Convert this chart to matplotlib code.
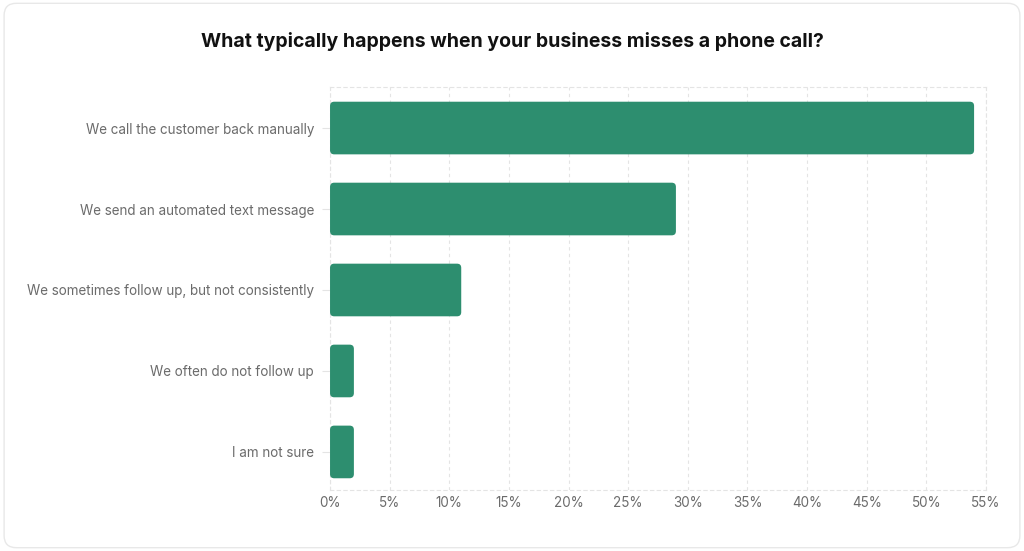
import matplotlib
matplotlib.use('Agg')
import matplotlib.pyplot as plt
from matplotlib.patches import FancyBboxPatch
from matplotlib.ticker import FuncFormatter

plt.rcParams['font.family'] = ['Inter', 'DejaVu Sans']

# dados da pesquisa
respostas = [
    'We call the customer back manually',
    'We send an automated text message',
    'We sometimes follow up, but not consistently',
    'We often do not follow up',
    'I am not sure',
]
percentuais = [54, 29, 11, 2, 2]
ticks_x = [0, 5, 10, 15, 20, 25, 30, 35, 40, 45, 50, 55]

cor_barra = '#2d8e6f'
cor_texto = '#6b6b6b'
cor_grade = '#e4e4e4'

fig = plt.figure(figsize=(10.24, 5.51), dpi=100)

# moldura externa arredondada (atras dos eixos)
moldura = FancyBboxPatch((0.004, 0.006), 0.992, 0.988, boxstyle='round,pad=0,rounding_size=0.012',
                         transform=fig.transFigure, facecolor='white', edgecolor='#e8e8e8',
                         linewidth=1.0, mutation_aspect=1024 / 551, zorder=-5)
fig.patches.append(moldura)

ax = fig.add_axes([0.3223, 0.1107, 0.6406, 0.7313])
ax.set_facecolor('none')

posicoes = list(range(len(respostas)))
barras = ax.barh(posicoes, percentuais, height=0.65, color=cor_barra)

# troca as barras por retangulos arredondados
for b in barras:
    x, y = b.get_x(), b.get_y()
    w, h = b.get_width(), b.get_height()
    b.set_visible(False)
    p = FancyBboxPatch((x, y), w, h, boxstyle='round,pad=0,rounding_size=0.35',
                       mutation_aspect=0.147, facecolor=cor_barra, edgecolor='none', zorder=3)
    ax.add_patch(p)

ax.set_xlim(0, 55)
ax.set_ylim(4.47, -0.506)
ax.set_xticks(ticks_x)
ax.xaxis.set_major_formatter(FuncFormatter(lambda v, _: f'{v:.0f}%'))
ax.set_yticks(posicoes)
ax.set_yticklabels(respostas)

ax.grid(True, axis='x', color=cor_grade, linestyle=(0, (3, 3)), linewidth=0.8, zorder=0)
for lado in ['top', 'bottom', 'left', 'right']:
    ax.spines[lado].set_color(cor_grade)
    ax.spines[lado].set_linestyle((0, (3, 3)))
    ax.spines[lado].set_linewidth(0.8)

ax.tick_params(axis='y', length=6, color=cor_grade, pad=5.5, labelsize=9.7, labelcolor=cor_texto)
ax.tick_params(axis='x', length=0, pad=4, labelsize=9.7, labelcolor=cor_texto)

fig.text(0.5, 0.925, 'What typically happens when your business misses a phone call?',
         ha='center', va='center', fontsize=14, fontweight='bold', color='#111111')

plt.savefig('out.png', dpi=100)
